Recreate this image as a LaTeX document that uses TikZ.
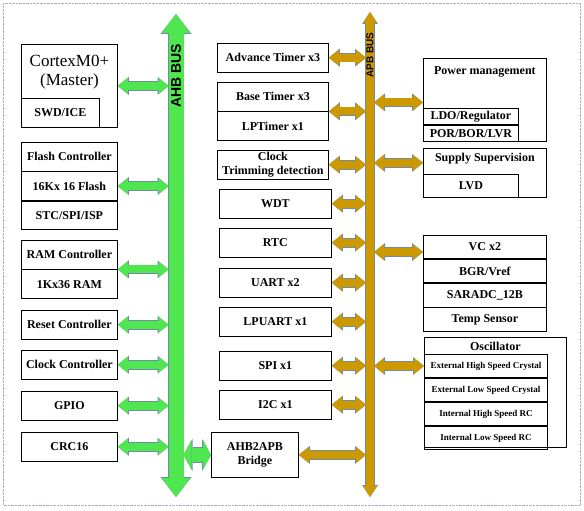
\documentclass[tikz,border=0pt]{standalone}
\usepackage{fontspec}
\setmainfont{Liberation Serif}
\newfontfamily\busfont{Liberation Sans}
\usetikzlibrary{arrows.meta, positioning}

\definecolor{ahbgreen}{RGB}{80,230,80}
\definecolor{apbgold}{RGB}{204,153,0}
\definecolor{arrowedge}{RGB}{110,140,170}
\definecolor{framegray}{RGB}{170,170,190}

\tikzset{
  blk/.style={draw, line width=0.8pt, inner sep=0pt, align=center,
    font=\fontsize{12}{14}\selectfont\bfseries},
  ttl/.style={inner sep=0pt, align=center, font=\fontsize{12}{14}\selectfont\bfseries},
  lrow/.style={blk, minimum width=96pt, minimum height=28.6pt},
  mrow/.style={blk, minimum width=112pt, minimum height=28.6pt},
  rrow/.style={blk, minimum width=123pt, minimum height=23.3pt},
  orow/.style={blk, minimum width=123pt, minimum height=23.2pt,
    font=\fontsize{9}{10}\selectfont\bfseries},
  link/.style={line width=8pt,
    {Triangle[length=10pt,width=16pt,line width=0pt]}-{Triangle[length=10pt,width=16pt,line width=0pt]},
    preaction={draw=arrowedge, line width=9.6pt,
      {Triangle[length=11pt,width=18pt,line width=0pt]}-{Triangle[length=11pt,width=18pt,line width=0pt]}}},
  ahblink/.style={link, draw=ahbgreen},
  apblink/.style={link, draw=apbgold},
  ahbbus/.style={draw=ahbgreen, line width=15pt,
    {Triangle[length=19pt,width=29pt,line width=0pt]}-{Triangle[length=19pt,width=29pt,line width=0pt]},
    preaction={draw=arrowedge, line width=16.4pt,
      {Triangle[length=20pt,width=31pt,line width=0pt]}-{Triangle[length=20pt,width=31pt,line width=0pt]}}},
  apbbus/.style={draw=apbgold, line width=8pt,
    {Triangle[length=11pt,width=14pt,line width=0pt]}-{Triangle[length=11pt,width=14pt,line width=0pt]},
    preaction={draw=arrowedge, line width=9.4pt,
      {Triangle[length=12pt,width=16pt,line width=0pt]}-{Triangle[length=12pt,width=16pt,line width=0pt]}}},
  bridgelink/.style={draw=ahbgreen, line width=14pt,
    {Triangle[length=8pt,width=30pt,line width=0pt]}-{Triangle[length=8pt,width=30pt,line width=0pt]},
    preaction={draw=arrowedge, line width=15.4pt,
      {Triangle[length=9pt,width=32pt,line width=0pt]}-{Triangle[length=9pt,width=32pt,line width=0pt]}}},
  buslbl/.style={rotate=90, inner sep=0pt, font=\busfont\bfseries}
}

\begin{document}
\begin{tikzpicture}[x=1pt, y=-1pt]
  \useasboundingbox (0,0) rectangle (584,511);
  \draw[framegray, densely dotted] (3,3) rectangle (580,505);

  % buses
  \coordinate (ahbtop) at (176,14);
  \coordinate (ahbbot) at (176,497);
  \coordinate (apbtop) at (370,12);
  \coordinate (apbbot) at (370,497);
  \draw[ahbbus] (ahbbot) -- (ahbtop);
  \draw[apbbus] (apbbot) -- (apbtop);
  \node[buslbl] (ahblbl) at (176,76) {\fontsize{14}{14}\selectfont AHB BUS};
  \node[buslbl] (apblbl) at (370,55) {\fontsize{10}{10}\selectfont APB BUS};

  % AHB masters and slaves
  \node[blk, minimum width=96pt, minimum height=83pt, anchor=north west] (cortex) at (21,44) {};
  \node[inner sep=0pt, align=center, font=\fontsize{17}{19}\selectfont] (cortexlbl)
    at ([yshift=-28.5pt]cortex.north) {CortexM0+\\(Master)};
  \node[blk, minimum width=78pt, minimum height=29pt, anchor=south west] (swd) at (cortex.south west) {SWD/ICE};

  \node[lrow, anchor=north west] (flashc) at (21,142) {Flash Controller};
  \node[lrow, below=0pt of flashc] (flash) {16Kx 16 Flash};
  \node[lrow, below=0pt of flash] (isp) {STC/SPI/ISP};

  \node[lrow, anchor=north west] (ramc) at (21,240) {RAM Controller};
  \node[lrow, below=0pt of ramc] (ram) {1Kx36 RAM};

  \node[lrow, anchor=north west] (reset) at (21,310) {Reset Controller};
  \node[lrow, anchor=north west] (clock) at (21,350) {Clock Controller};
  \node[lrow, anchor=north west] (gpio) at (21,391) {GPIO};
  \node[lrow, anchor=north west] (crc) at (21,432) {CRC16};

  \draw[ahblink, shorten >=7.5pt] (cortex.east) -- (cortex.east -| ahbtop);
  \draw[ahblink, shorten >=7.5pt] (flash.east) -- (flash.east -| ahbtop);
  \draw[ahblink, shorten >=7.5pt] (ramc.south east) -- (ramc.south east -| ahbtop);
  \draw[ahblink, shorten >=7.5pt] (reset.east) -- (reset.east -| ahbtop);
  \draw[ahblink, shorten >=7.5pt] (clock.east) -- (clock.east -| ahbtop);
  \draw[ahblink, shorten >=7.5pt] (gpio.east) -- (gpio.east -| ahbtop);
  \draw[ahblink, shorten >=7.5pt] (crc.east) -- (crc.east -| ahbtop);

  % bridge
  \node[blk, minimum width=87pt, minimum height=45pt, anchor=north west] (bridge) at (211,432) {AHB2APB\\Bridge};
  \draw[bridgelink, shorten <=7.5pt] (bridge.west -| ahbtop) -- (bridge.west);
  \draw[apblink, shorten >=4pt] (bridge.east) -- (bridge.east -| apbtop);

  % APB peripherals, left
  \node[mrow, anchor=north west, minimum width=111pt] (adv) at (217,43) {Advance Timer x3};
  \node[mrow, anchor=north west, minimum width=111pt] (base) at (217,82) {Base Timer x3};
  \node[mrow, below=0pt of base, minimum width=111pt] (lptim) {LPTimer x1};
  \node[mrow, anchor=north west, minimum width=111pt] (trim) at (217,150) {Clock\\Trimming detection};
  \node[mrow, anchor=north west] (wdt) at (219,189) {WDT};
  \node[mrow, anchor=north west] (rtc) at (219,228) {RTC};
  \node[mrow, anchor=north west] (uart) at (219,268) {UART x2};
  \node[mrow, anchor=north west] (lpuart) at (219,307) {LPUART x1};
  \node[mrow, anchor=north west] (spi) at (219,351) {SPI x1};
  \node[mrow, anchor=north west] (iic) at (219,390) {I2C x1};

  \draw[apblink, shorten >=4pt] (adv.east) -- (adv.east -| apbtop);
  \draw[apblink, shorten >=4pt] (base.south east) -- (base.south east -| apbtop);
  \draw[apblink, shorten >=4pt] (trim.east) -- (trim.east -| apbtop);
  \draw[apblink, shorten >=4pt] (wdt.east) -- (wdt.east -| apbtop);
  \draw[apblink, shorten >=4pt] (rtc.east) -- (rtc.east -| apbtop);
  \draw[apblink, shorten >=4pt] (uart.east) -- (uart.east -| apbtop);
  \draw[apblink, shorten >=4pt] (lpuart.east) -- (lpuart.east -| apbtop);
  \draw[apblink, shorten >=4pt] (spi.east) -- (spi.east -| apbtop);
  \draw[apblink, shorten >=4pt] (iic.east) -- (iic.east -| apbtop);

  % APB peripherals, right
  \node[blk, minimum width=123pt, minimum height=83pt, anchor=north west] (power) at (423,58) {};
  \node[ttl] (powerttl) at ([yshift=-14pt]power.north) {Power management};
  \node[blk, minimum width=95pt, minimum height=16pt, anchor=south west] (por) at (power.south west) {POR/BOR/LVR};
  \node[blk, minimum width=95pt, minimum height=16pt, above=0pt of por] (ldo) {LDO/Regulator};

  \node[blk, minimum width=123pt, minimum height=49pt, anchor=north west] (supply) at (423,148) {};
  \node[ttl] (supplyttl) at ([yshift=-11pt]supply.north) {Supply Supervision};
  \node[blk, minimum width=95pt, minimum height=23pt, anchor=south west] (lvd) at (supply.south west) {LVD};

  \node[rrow, anchor=north west] (vc) at (423,235) {VC x2};
  \node[rrow, below=0pt of vc] (bgr) {BGR/Vref};
  \node[rrow, below=0pt of bgr] (adc) {SARADC\_12B};
  \node[rrow, below=0pt of adc] (temp) {Temp Sensor};

  \node[blk, minimum width=142pt, minimum height=110pt, anchor=north west] (osc) at (424,337) {};
  \node[ttl] (oscttl) at ([yshift=-9pt]osc.north) {Oscillator};
  \node[orow, anchor=north west] (hxt) at ([yshift=-17pt]osc.north west) {External High Speed Crystal};
  \node[orow, below=0pt of hxt] (lxt) {External Low Speed Crystal};
  \node[orow, below=0pt of lxt] (hrc) {Internal High Speed RC};
  \node[orow, below=0pt of hrc] (lrc) {Internal Low Speed RC};

  \draw[apblink, shorten <=4pt] ([yshift=-2.5pt]power.west -| apbtop) -- ([yshift=-2.5pt]power.west);
  \draw[apblink, shorten <=4pt] ([yshift=10pt]supply.west -| apbtop) -- ([yshift=10pt]supply.west);
  \draw[apblink, shorten <=4pt] ([yshift=-5pt]vc.west -| apbtop) -- ([yshift=-5pt]vc.west);
  \draw[apblink, shorten <=4pt] (hxt.west -| apbtop) -- (hxt.west);
\end{tikzpicture}
\end{document}
